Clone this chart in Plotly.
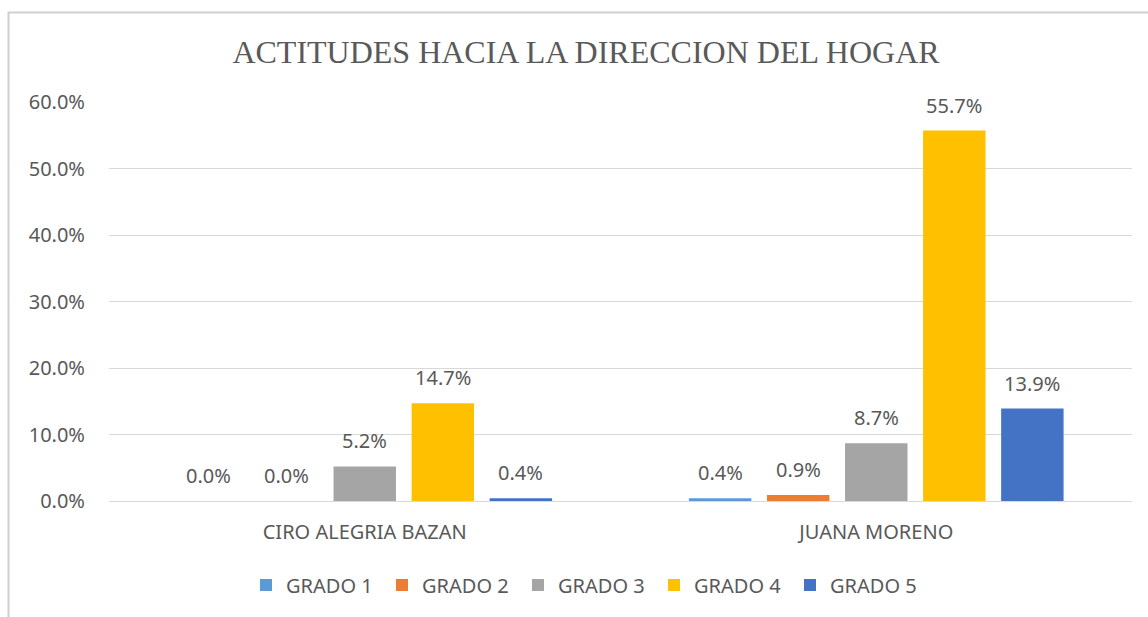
import plotly.graph_objects as go

categories = ["CIRO ALEGRIA BAZAN", "JUANA MORENO"]
series_names = ["GRADO 1", "GRADO 2", "GRADO 3", "GRADO 4", "GRADO 5"]
grado1 = [0.000, 0.004]
grado2 = [0.000, 0.009]
grado3 = [0.052, 0.087]
grado4 = [0.147, 0.557]
grado5 = [0.004, 0.139]
series_values = [grado1, grado2, grado3, grado4, grado5]
colors = ["#5B9BD5", "#ED7D31", "#A5A5A5", "#FFC000", "#4472C4"]
y_ticks = [0, 0.1, 0.2, 0.3, 0.4, 0.5, 0.6]

W, H = 1148, 617
ML, MR, MT, MB = 109, 16, 102, 116
BARGAP = 0.237
BARGROUPGAP = 0.2
TXT = "#595959"
FONT = "Noto Sans"

fig = go.Figure()
for name, vals, col in zip(series_names, series_values, colors):
    fig.add_trace(go.Bar(name=name, x=categories, y=vals, marker_color=col,
                         marker_line_width=0, hoverinfo="skip"))

# data labels, positioned from the data through the axis scales
n = len(series_names)
slot = (1 - BARGAP) / n
for i, vals in enumerate(series_values):
    for j, v in enumerate(vals):
        fig.add_annotation(x=j + (i - (n - 1) / 2) * slot, y=v, xref="x", yref="y",
                           text=f"{v*100:.1f}%", showarrow=False, yanchor="bottom",
                           yshift=10, font=dict(family=FONT, size=20, color=TXT))

pw = W - ML - MR
ph = H - MT - MB
fig.add_shape(type="rect", xref="paper", yref="paper",
              x0=(8.5 - ML) / pw, x1=(W + 20 - ML) / pw,
              y0=-(H + 20 - MT - ph) / ph, y1=(H - 12.5 - MB) / ph,
              line=dict(color="#D0D0D0", width=2), fillcolor="rgba(0,0,0,0)", layer="below")

fig.update_layout(
    width=W, height=H,
    margin=dict(l=ML, r=MR, t=MT, b=MB),
    paper_bgcolor="white", plot_bgcolor="white",
    barmode="group", bargap=BARGAP, bargroupgap=BARGROUPGAP,
    title=dict(text="ACTITUDES HACIA LA DIRECCION DEL HOGAR",
               font=dict(family="Liberation Serif", size=32, color=TXT),
               x=586 / W, xanchor="center", y=1 - 52 / H, yanchor="middle", yref="container"),
    font=dict(family=FONT, size=20, color=TXT),
    xaxis=dict(showgrid=False, showline=False, ticks="", zeroline=False,
               tickfont=dict(family=FONT, size=20, color=TXT), ticklabelstandoff=17),
    yaxis=dict(range=[0, 0.6], tickvals=y_ticks, tickformat=".1%",
               showgrid=True, gridcolor="#D9D9D9", gridwidth=1,
               zeroline=True, zerolinecolor="#D9D9D9", zerolinewidth=1,
               showline=False, ticks="", ticklabelstandoff=23,
               tickfont=dict(family=FONT, size=20, color=TXT)),
    legend=dict(orientation="h", x=(586 - ML) / pw, xanchor="center",
                y=-(585 - (H - MB)) / ph,
                yanchor="middle", font=dict(family=FONT, size=20, color=TXT),
                entrywidth=91, entrywidthmode="pixels", itemwidth=30),
    showlegend=True,
)

fig.write_html("out.html", post_script="document.body.style.margin='0';",
               config={"displayModeBar": False})
